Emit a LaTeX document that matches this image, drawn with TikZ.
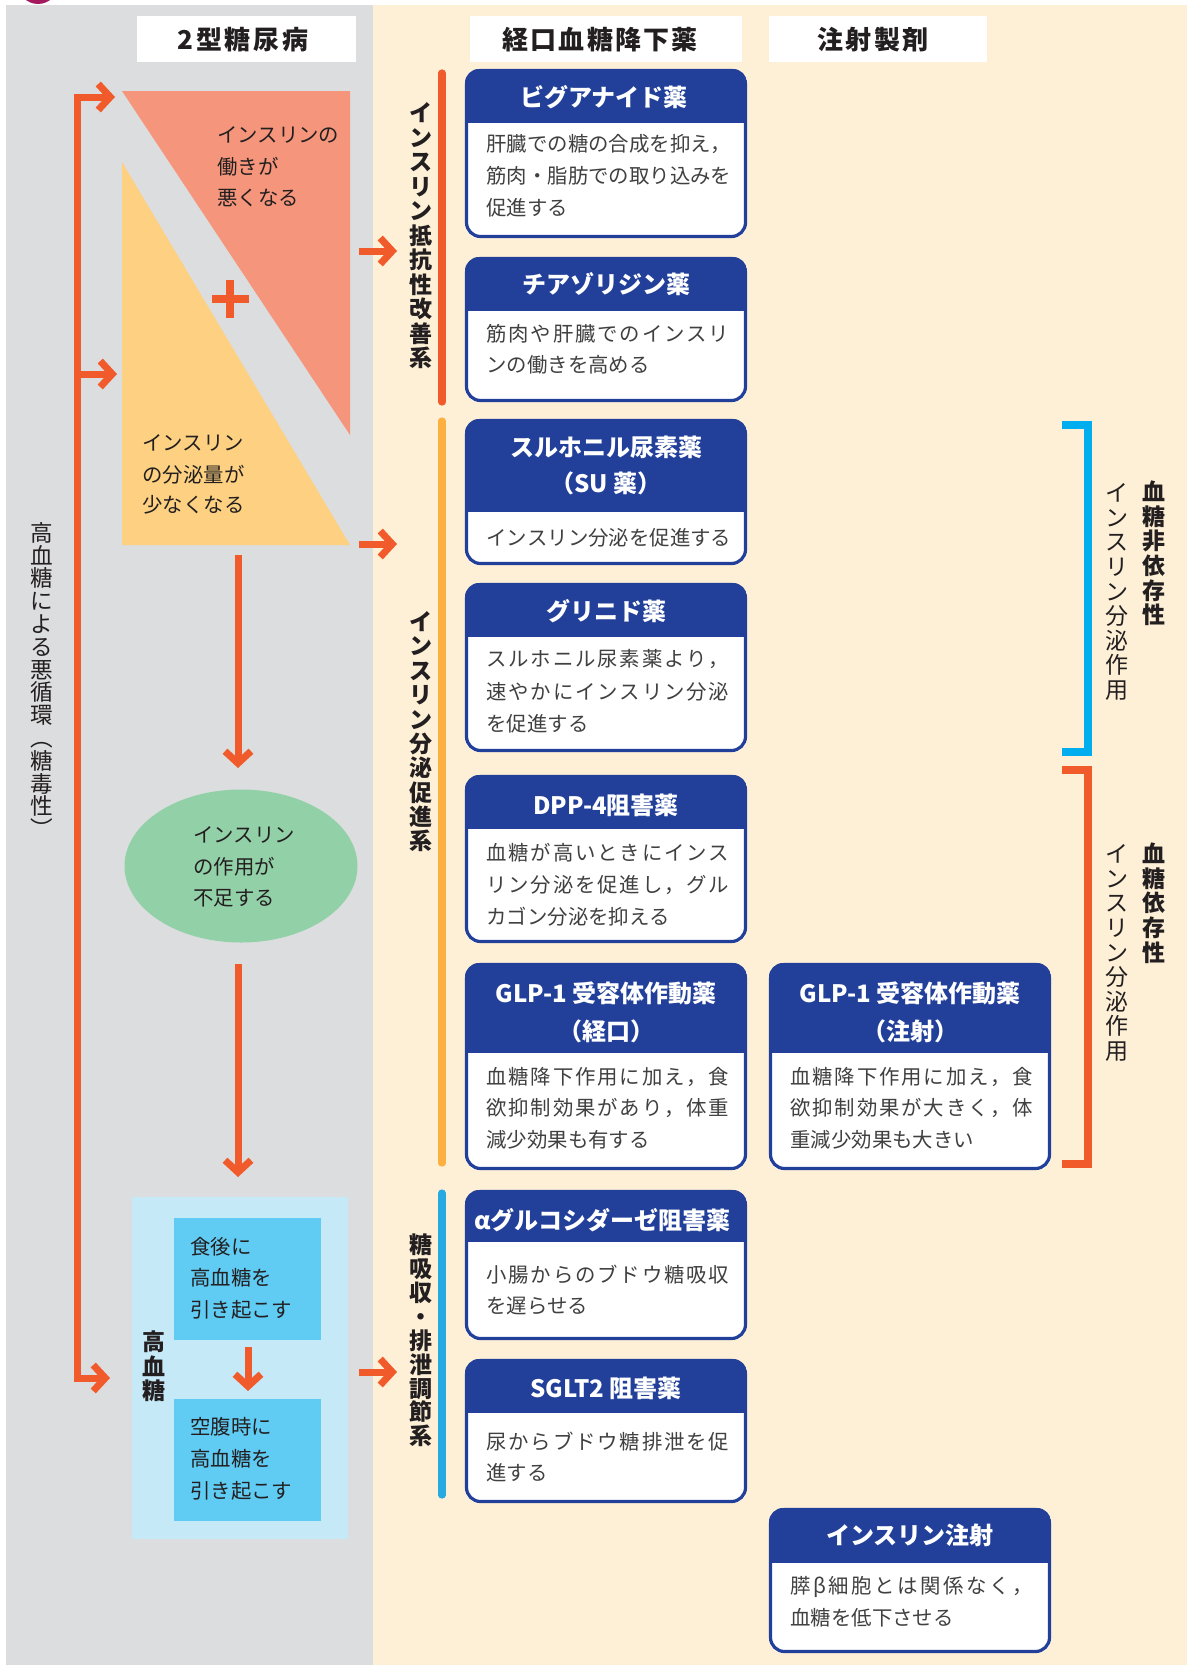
\documentclass[tikz,border=0pt]{standalone}
\usepackage{fontspec}
\setmainfont{Noto Sans CJK JP}
\usetikzlibrary{arrows.meta,shapes.geometric}
\definecolor{panelgray}{HTML}{DCDDDE}
\definecolor{beige}{HTML}{FEF0D6}
\definecolor{salmon}{HTML}{F5967C}
\definecolor{paleyel}{HTML}{FDD181}
\definecolor{mint}{HTML}{92D0A8}
\definecolor{skyl}{HTML}{C6E9F8}
\definecolor{skym}{HTML}{60CCF4}
\definecolor{oran}{HTML}{F15A2B}
\definecolor{amber}{HTML}{FBB040}
\definecolor{barblue}{HTML}{27AAE1}
\definecolor{cyanb}{HTML}{00AEEF}
\definecolor{navy}{HTML}{22409A}
\definecolor{ink}{HTML}{231F20}
\definecolor{bodyink}{HTML}{404040}
\definecolor{magen}{HTML}{A5195F}

% vertical (stacked) text
\newdimen\vtp
\def\vt#1{\vbox{\offinterlineskip\vtA#1\relax}}
\def\vtA#1{\ifx\relax#1\else\hbox to 1.1em{\hss\vrule height .88em depth .12em width 0pt\relax#1\hss}\kern\dimexpr\vtp-1em\relax\expandafter\vtA\fi}
% spread characters over a width
\def\sprA#1#2{#1\ifx\relax#2\else\hfill\expandafter\sprA\expandafter#2\fi}
\newcommand\spreadto[2]{\hbox to #1{\sprA#2\relax}}
\newcommand\jline[1]{\spreadto{121.5pt}{#1}}

\tikzset{
  txt/.style={inner sep=0pt, text=ink, font=\fontsize{10.2}{12}\selectfont, text height=8.8pt, text depth=1.4pt, anchor=west},
  body/.style={txt, text=bodyink},
  hdr/.style={inner sep=0pt, text=white, font=\bfseries\fontsize{12}{14}\selectfont},
  coltitle/.style={inner sep=0pt, text=ink, font=\bfseries\fontsize{13}{15}\selectfont},
  titlebox/.style={fill=white, inner sep=0pt, minimum height=23pt},
  vlab/.style={inner sep=0pt, text=ink, anchor=north},
  oline/.style={draw=oran, line width=3.5pt},
  oarrow/.style={oline, -{Straight Barb[length=6pt,width=13pt,sharp]}},
  oboth/.style={oline, line join=miter, {Straight Barb[length=6pt,width=13pt,sharp]}-{Straight Barb[length=6pt,width=13pt,sharp]}},
  catbar/.style={line width=3.6pt, line cap=round},
  brk/.style={line width=4pt, line join=miter},
}

\newcommand\dbox[6]{% name x1 y1 x2 hb y2
  \begin{scope}
    \clip[rounded corners=7pt] (#2,#3) rectangle (#4,#6);
    \fill[navy] (#2,#3) rectangle (#4,#5);
    \fill[white] (#2,#5) rectangle (#4,#6);
  \end{scope}
  \draw[navy, line width=1.6pt, rounded corners=7pt] ({#2+1.5},{#3+1.5}) rectangle ({#4-1.5},{#6-1.5});
  \coordinate (#1) at ({(#2+#4)/2},{(#3+#6)/2});
}

\begin{document}
\begin{tikzpicture}[x=0.5pt,y=-0.5pt]
\useasboundingbox (0,0) rectangle (1189,1665);
\fill[white] (0,0) rectangle (1189,1665);
\fill[panelgray] (6,5) rectangle (373,1665);
\fill[beige] (373,5) rectangle (1187,1665);
\begin{scope}
  \clip (0,0) rectangle (1189,1665);
  \fill[magen] (38,-16) circle (10pt);
\end{scope}

% column titles
\node[titlebox, minimum width=109.5pt] (t1) at (246.5,39) {};
\node[coltitle] (t1t) at (243,40) {\spreadto{65.5pt}{2型糖尿病}};
\node[titlebox, minimum width=136pt] (t2) at (606,39) {};
\node[coltitle] (t2t) at (600,40) {\spreadto{97.5pt}{経口血糖降下薬}};
\node[titlebox, minimum width=109pt] (t3) at (878,39) {};
\node[coltitle] (t3t) at (873,40) {\spreadto{55.5pt}{注射製剤}};

% triangles
\fill[salmon] (122,91) -- (350,91) -- (350,435) -- cycle;
\fill[paleyel] (122,162) -- (122,545) -- (350,545) -- cycle;
\fill[oran] (212,295) rectangle (249,303);
\fill[oran] (226,280) rectangle (234,318);
\node[txt] (s1) at (217,135) {インスリンの};
\node[txt] (s2) at (217,167) {働きが};
\node[txt] (s3) at (217,198) {悪くなる};
\node[txt] (y1) at (142,443) {インスリン};
\node[txt] (y2) at (142,475) {の分泌量が};
\node[txt] (y3) at (142,505) {少なくなる};

% ellipse
\node[ellipse, fill=mint, minimum width=116.5pt, minimum height=76.5pt, inner sep=0pt] (ell) at (241,866) {};
\node[txt] (e1) at (193,835) {インスリン};
\node[txt] (e2) at (193,867) {の作用が};
\node[txt] (e3) at (193,898) {不足する};

% hyperglycemia box
\node[fill=skyl, minimum width=108pt, minimum height=171pt, inner sep=0pt, anchor=north west] (hg) at (132,1197) {};
\node[fill=skym, minimum width=73.5pt, minimum height=61pt, inner sep=0pt, anchor=north west] (hg1) at (174,1218) {};
\node[fill=skym, minimum width=73.5pt, minimum height=61pt, inner sep=0pt, anchor=north west] (hg2) at (174,1399) {};
\node[txt] (h1) at (190,1247) {食後に};
\node[txt] (h2) at (190,1278) {高血糖を};
\node[txt] (h3) at (190,1310) {引き起こす};
\node[txt] (h4) at (190,1427) {空腹時に};
\node[txt] (h5) at (190,1459) {高血糖を};
\node[txt] (h6) at (190,1491) {引き起こす};
\node[vlab, font=\bfseries\fontsize{11.5}{12}\selectfont] (hgl) at (154,1330) {\vtp=12.25pt\relax\vt{高血糖}};

% left loop
\node[vlab, font=\fontsize{11.3}{12}\selectfont] (loopl) at (42,521) {\vtp=11.4pt\relax\vt{高血糖による悪循環︵糖毒性︶}};
\coordinate (lpTop) at (115,97);
\coordinate (lpTopC) at (77,97);
\coordinate (lpBotC) at (77,1378);
\coordinate (lpBot) at (110,1378);
\coordinate (lpMid) at (77,374);
\coordinate (lpMidE) at (117,374);
\draw[oboth] (lpTop) -- (lpTopC) -- (lpBotC) -- (lpBot);
\draw[oarrow] (lpMid) -- (lpMidE);

% down arrows
\coordinate (d1s) at (238,555); \coordinate (d1e) at (238,768);
\coordinate (d2s) at (238,964); \coordinate (d2e) at (238,1177);
\coordinate (d3s) at (248,1347); \coordinate (d3e) at (248,1391);
\draw[oarrow] (d1s) -- (d1e);
\draw[oarrow] (d2s) -- (d2e);
\draw[oarrow] (d3s) -- (d3e);

% arrows to categories
\coordinate (r1s) at (359,251); \coordinate (r1e) at (397,251);
\coordinate (r2s) at (359,544); \coordinate (r2e) at (397,544);
\coordinate (r3s) at (359,1372); \coordinate (r3e) at (397,1372);
\draw[oarrow] (r1s) -- (r1e);
\draw[oarrow] (r2s) -- (r2e);
\draw[oarrow] (r3s) -- (r3e);

% category labels and bars
\node[vlab, font=\bfseries\fontsize{11.5}{12}\selectfont] (cat1) at (421,101) {\vtp=12.25pt\relax\vt{インスリン抵抗性改善系}};
\node[vlab, font=\bfseries\fontsize{11.5}{12}\selectfont] (cat2) at (421,610) {\vtp=12.17pt\relax\vt{インスリン分泌促進系}};
\node[vlab, font=\bfseries\fontsize{11.5}{12}\selectfont] (cat3) at (421,1233) {\vtp=11.95pt\relax\vt{糖吸収・排泄調節系}};
\draw[catbar, oran] (442,73) -- (442,402);
\draw[catbar, amber] (442,421) -- (442,1163);
\draw[catbar, barblue] (442,1193) -- (442,1495);

% drug boxes
\dbox{bg}{465}{69}{747}{123}{238}
\node[hdr] (bgh) at (604,97) {ビグアナイド薬};
\node[body] (bg1) at (486,144) {\jline{肝臓での糖の合成を抑え，}};
\node[body] (bg2) at (486,176) {\jline{筋肉・脂肪での取り込みを}};
\node[body] (bg3) at (486,208) {促進する};

\dbox{tz}{465}{257}{747}{311}{402}
\node[hdr] (tzh) at (606,284) {チアゾリジン薬};
\node[body] (tz1) at (486,334) {\jline{筋肉や肝臓でのインスリ}};
\node[body] (tz2) at (486,365) {ンの働きを高める};

\dbox{su}{465}{419}{747}{512}{565}
\node[hdr] (suh1) at (606,447) {スルホニル尿素薬};
\node[hdr] (suh2) at (606,483) {（SU 薬）};
\node[body] (su1) at (486,538) {\jline{インスリン分泌を促進する}};

\dbox{gl}{465}{583}{747}{637}{752}
\node[hdr] (glh) at (606,611) {グリニド薬};
\node[body] (gl1) at (486,659) {\jline{スルホニル尿素薬より，}};
\node[body] (gl2) at (486,692) {\jline{速やかにインスリン分泌}};
\node[body] (gl3) at (486,724) {を促進する};

\dbox{dp}{465}{775}{747}{829}{943}
\node[hdr] (dph) at (606,805) {DPP-4阻害薬};
\node[body] (dp1) at (486,853) {\jline{血糖が高いときにインス}};
\node[body] (dp2) at (486,885) {\jline{リン分泌を促進し，グル}};
\node[body] (dp3) at (486,917) {カゴン分泌を抑える};

\dbox{go}{465}{963}{747}{1053}{1170}
\node[hdr] (goh1) at (606,993) {GLP-1 受容体作動薬};
\node[hdr] (goh2) at (606,1031) {（経口）};
\node[body] (go1) at (486,1077) {\jline{血糖降下作用に加え，食}};
\node[body] (go2) at (486,1108) {\jline{欲抑制効果があり，体重}};
\node[body] (go3) at (486,1140) {減少効果も有する};

\dbox{gi}{769}{963}{1051}{1053}{1170}
\node[hdr] (gih1) at (910,993) {GLP-1 受容体作動薬};
\node[hdr] (gih2) at (910,1031) {（注射）};
\node[body] (gi1) at (790,1077) {\jline{血糖降下作用に加え，食}};
\node[body] (gi2) at (790,1108) {\jline{欲抑制効果が大きく，体}};
\node[body] (gi3) at (790,1140) {重減少効果も大きい};

\dbox{ag}{465}{1190}{747}{1242}{1340}
\node[hdr] (agh) at (602,1220) {αグルコシダーゼ阻害薬};
\node[body] (ag1) at (486,1275) {\jline{小腸からのブドウ糖吸収}};
\node[body] (ag2) at (486,1306) {を遅らせる};

\dbox{sg}{465}{1359}{747}{1413}{1503}
\node[hdr] (sgh) at (606,1388) {SGLT2 阻害薬};
\node[body] (sg1) at (486,1442) {\jline{尿からブドウ糖排泄を促}};
\node[body] (sg2) at (486,1473) {進する};

\dbox{in}{769}{1508}{1051}{1563}{1653}
\node[hdr] (inh) at (910,1535) {インスリン注射};
\node[body] (in1) at (790,1586) {\jline{膵β細胞とは関係なく，}};
\node[body] (in2) at (790,1618) {血糖を低下させる};

% brackets and right labels
\draw[brk, cyanb] (1062,425) -- (1088,425) -- (1088,752) -- (1062,752);
\draw[brk, oran] (1062,770) -- (1088,770) -- (1088,1164) -- (1062,1164);
\node[vlab, font=\fontsize{11.5}{12}\selectfont] (ra1) at (1117,481) {\vtp=12.3pt\relax\vt{インスリン分泌作用}};
\node[vlab, font=\bfseries\fontsize{11.5}{12}\selectfont] (rb1) at (1154,480) {\vtp=12.3pt\relax\vt{血糖非依存性}};
\node[vlab, font=\fontsize{11.5}{12}\selectfont] (ra2) at (1117,842) {\vtp=12.3pt\relax\vt{インスリン分泌作用}};
\node[vlab, font=\bfseries\fontsize{11.5}{12}\selectfont] (rb2) at (1154,842) {\vtp=12.3pt\relax\vt{血糖依存性}};
\end{tikzpicture}
\end{document}
